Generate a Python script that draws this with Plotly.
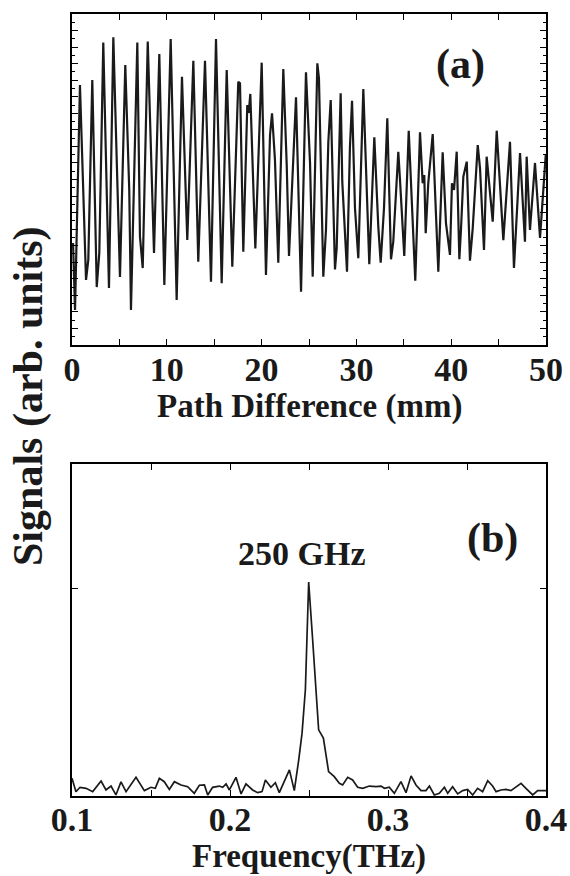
import plotly.graph_objects as go

# ---- Panel (a): interferogram ----
path_mm = [0.11, 0.32, 0.84, 1.48, 1.72, 2.14, 2.61, 2.88, 3.30, 3.90, 4.36, 5.06, 5.62, 6.04, 6.22,
           6.89, 7.17, 7.46, 7.99, 8.65, 9.21, 9.74, 10.41, 11.04, 11.60, 12.16, 12.80, 13.32, 14.03,
           14.66, 15.19, 15.79, 16.32, 16.91, 17.54, 17.72, 18.07, 18.49, 18.64, 18.81, 19.34, 20.01,
           20.46, 20.89, 21.10, 21.23, 21.41, 21.76, 22.29, 22.65, 22.89, 23.63, 24.16, 24.68, 25.11,
           25.39, 25.88, 26.05, 26.51, 26.79, 27.04, 27.29, 27.74, 27.92, 28.34, 28.51, 29.01, 29.32,
           29.54, 29.85, 30.20, 30.73, 31.09, 31.26, 31.36, 31.89, 32.31, 32.56, 32.91, 33.26, 33.65,
           33.89, 34.07, 34.42, 34.60, 35.05, 35.52, 35.76, 36.21, 36.71, 36.99, 37.16, 37.31, 37.58,
           38.05, 38.64, 39.10, 39.45, 39.87, 40.08, 40.30, 40.58, 40.86, 41.03, 41.28, 41.64, 41.98,
           42.27, 42.80, 43.04, 43.46, 43.74, 44.38, 44.80, 45.50, 46.20, 46.62, 47.26, 47.78, 47.96,
           48.31, 48.84, 49.37, 49.97]
signal = [6.16, 2.11, 15.71, 3.93, 5.14, 16.01, 3.50, 5.56, 18.27, 3.44, 18.59, 4.11, 16.92, 9.37, 2.11,
          18.27, 6.54, 4.65, 18.33, 5.56, 17.58, 3.63, 18.49, 2.72, 16.21, 6.34, 17.18, 5.03, 17.18,
          3.82, 18.49, 3.73, 16.62, 4.73, 15.91, 15.81, 5.64, 14.50, 14.02, 15.17, 5.84, 17.06,
          4.23, 12.69, 14.00, 12.59, 11.18, 4.97, 16.68, 10.88, 5.38, 14.97, 3.22, 16.48, 11.00,
          4.13, 17.02, 16.11, 4.13, 6.95, 12.28, 14.80, 4.57, 5.84, 15.21, 9.87, 4.43, 11.98,
          14.76, 8.26, 5.24, 15.47, 9.06, 5.84, 4.88, 12.55, 7.15, 4.97, 8.26, 13.70, 5.18,
          6.24, 8.05, 11.68, 9.97, 5.38, 12.95, 9.97, 3.89, 12.85, 9.77, 10.27, 6.75, 9.77,
          12.75, 4.43, 11.64, 7.35, 5.44, 9.77, 9.37, 11.68, 5.18, 6.95, 10.17, 11.08, 5.09,
          7.05, 12.08, 10.68, 5.74, 11.38, 7.45, 12.95, 6.34, 12.28, 4.65, 11.60, 6.24, 11.38,
          6.95, 11.00, 6.47, 11.48]

# ---- Panel (b): spectrum ----
freq_thz = [0.1000, 0.1025, 0.1051, 0.1089, 0.1131, 0.1184, 0.1215, 0.1247, 0.1278, 0.1310, 0.1342,
            0.1405, 0.1458, 0.1500, 0.1527, 0.1553, 0.1584, 0.1616, 0.1648, 0.1690, 0.1732, 0.1774,
            0.1806, 0.1838, 0.1859, 0.1890, 0.1932, 0.1954, 0.1975, 0.1996, 0.2038, 0.2070, 0.2101,
            0.2143, 0.2175, 0.2203, 0.2224, 0.2259, 0.2287, 0.2312, 0.2376, 0.2407, 0.2435, 0.2456,
            0.2477, 0.2498, 0.2523, 0.2544, 0.2561, 0.2591, 0.2624, 0.2660, 0.2692, 0.2713, 0.2745,
            0.2776, 0.2808, 0.2840, 0.2882, 0.2924, 0.2956, 0.2977, 0.3008, 0.3040, 0.3082, 0.3114,
            0.3146, 0.3177, 0.3209, 0.3240, 0.3262, 0.3293, 0.3325, 0.3357, 0.3378, 0.3409, 0.3441,
            0.3473, 0.3504, 0.3536, 0.3567, 0.3599, 0.3631, 0.3662, 0.3684, 0.3715, 0.3747, 0.3778,
            0.3810, 0.3842, 0.3873, 0.3916, 0.3947, 0.4000]
amplitude = [0.085, 0.021, 0.042, 0.037, 0.021, 0.072, 0.029, 0.048, 0.005, 0.068, 0.021,
             0.090, 0.026, 0.042, 0.037, 0.085, 0.069, 0.032, 0.069, 0.053, 0.045, 0.013,
             0.052, 0.053, 0.005, 0.042, 0.048, 0.042, 0.058, 0.029, 0.090, 0.010, 0.058,
             0.029, 0.016, 0.021, 0.077, 0.042, 0.064, 0.016, 0.126, 0.026, 0.174, 0.303,
             0.512, 1.031, 0.754, 0.528, 0.319, 0.279, 0.118, 0.093, 0.061, 0.053, 0.090,
             0.077, 0.042, 0.037, 0.048, 0.045, 0.048, 0.037, 0.042, 0.013, 0.069, 0.016,
             0.097, 0.053, 0.026, 0.026, 0.048, 0.005, 0.013, 0.042, 0.013, 0.045, 0.010,
             0.026, 0.032, 0.005, 0.037, 0.021, 0.074, 0.048, 0.021, 0.029, 0.032, 0.026,
             0.042, 0.061, 0.037, 0.005, 0.026, 0.026]

x_tick_vals_a = [0, 5, 10, 15, 20, 25, 30, 35, 40, 45, 50]
x_tick_text_a = ["0", "", "10", "", "20", "", "30", "", "40", "", "50"]
x_tick_vals_b = [0.10, 0.15, 0.20, 0.25, 0.30, 0.35, 0.40]
x_tick_text_b = ["0.1", "", "0.2", "", "0.3", "", "0.4"]

FONT = "Liberation Serif"
W, H = 570, 876
ML, MR, MT, MB = 72, 24, 14, 80
plot_w = W - ML - MR
plot_h = H - MT - MB
dom_a = [(H - MB - 345) / plot_h, 1.0]
dom_b = [0.0, (H - MB - 464) / plot_h]


def py(pixel_y):
    """paper y coordinate for a pixel row measured from the top"""
    return (H - MB - pixel_y) / plot_h


fig = go.Figure()
fig.add_trace(go.Scatter(x=path_mm, y=signal, mode="lines",
                         line=dict(color="#1a1a1a", width=2.2), xaxis="x", yaxis="y",
                         showlegend=False, hoverinfo="skip"))
fig.add_trace(go.Scatter(x=freq_thz, y=amplitude, mode="lines",
                         line=dict(color="#1a1a1a", width=1.7), xaxis="x2", yaxis="y2",
                         showlegend=False, hoverinfo="skip"))

axis_common = dict(showline=True, linecolor="black", linewidth=1.6, mirror="ticks",
                   ticks="inside", tickcolor="black", tickwidth=1.3, showgrid=False,
                   zeroline=False, automargin=False)
tickfont = dict(family=FONT, size=34, color="#1a1a1a", weight="bold")
titlefont = dict(family=FONT, size=33, color="#1a1a1a", weight="bold")

fig.update_layout(
    template="none",
    width=W, height=H,
    margin=dict(l=ML, r=MR, t=MT, b=MB),
    paper_bgcolor="white", plot_bgcolor="white",
    xaxis=dict(domain=[0, 1], anchor="y", range=[0, 50], tickvals=x_tick_vals_a,
               ticktext=x_tick_text_a, ticklen=6, tickfont=tickfont, ticklabelstandoff=-7,
               **axis_common),
    yaxis=dict(domain=dom_a, anchor="x", range=[0, 20], dtick=1, ticklen=6,
               showticklabels=False,
               minor=dict(dtick=0.5, ticklen=3, ticks="inside", tickcolor="black"),
               **axis_common),
    xaxis2=dict(domain=[0, 1], anchor="y2", range=[0.1, 0.4], tickvals=x_tick_vals_b,
                ticktext=x_tick_text_b, ticklen=6, tickfont=tickfont, ticklabelstandoff=-8,
                **axis_common),
    yaxis2=dict(domain=dom_b, anchor="x2", range=[0, 1.6], tickvals=[1.0], ticklen=6,
                showticklabels=False, **axis_common),
    font=dict(family=FONT),
)

# axis titles
fig.add_annotation(text="Path Difference (mm)", xref="paper", yref="paper",
                   x=0.5, y=py(407), xanchor="center", yanchor="middle", showarrow=False,
                   font=titlefont)
fig.add_annotation(text="Frequency(THz)", xref="paper", yref="paper",
                   x=0.5, y=py(856), xanchor="center", yanchor="middle", showarrow=False,
                   font=titlefont)
fig.add_annotation(text="Signals (arb. units)", xref="paper", yref="paper",
                   x=(28 - ML) / plot_w, y=py(396), xanchor="center",
                   yanchor="middle", textangle=-90, showarrow=False,
                   font=dict(family=FONT, size=42, color="#1a1a1a", weight="bold"))

# panel labels
fig.add_annotation(text="(a)", xref="x domain", yref="y domain", x=0.82, y=0.846,
                   xanchor="center", yanchor="middle", showarrow=False,
                   font=dict(family=FONT, size=42, color="#1a1a1a", weight="bold"))
fig.add_annotation(text="(b)", xref="x2 domain", yref="y2 domain", x=0.888, y=0.775,
                   xanchor="center", yanchor="middle", showarrow=False,
                   font=dict(family=FONT, size=42, color="#1a1a1a", weight="bold"))
fig.add_annotation(text="250 GHz", xref="x2", yref="y2", x=0.245, y=1.17,
                   xanchor="center", yanchor="middle", showarrow=False,
                   font=dict(family=FONT, size=34, color="#1a1a1a", weight="bold"))

fig.write_html("out.html")
